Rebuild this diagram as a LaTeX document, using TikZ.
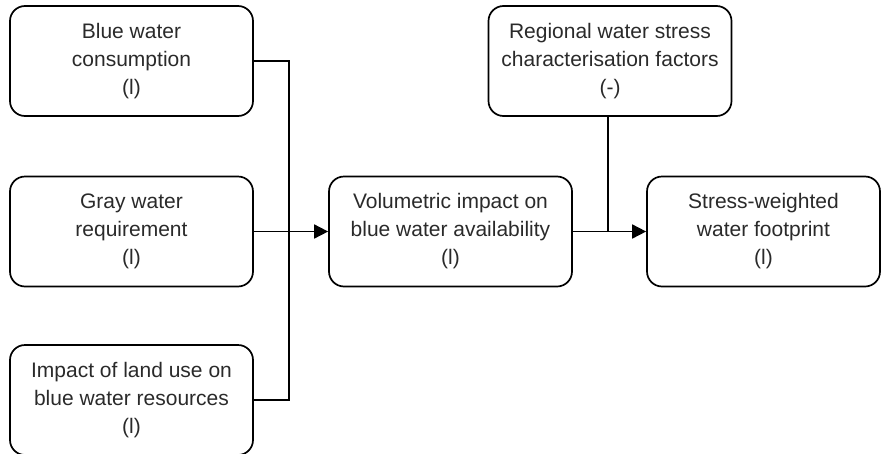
\documentclass[tikz,border=0pt]{standalone}
\usepackage{fontspec}
\setmainfont{Liberation Sans}
\usetikzlibrary{arrows.meta}
\definecolor{txt}{HTML}{2A2A2A}
\begin{document}
\begin{tikzpicture}[x=1pt,y=-1pt,
  box/.style={draw, line width=1.7pt, rounded corners=15pt, minimum width=243pt, minimum height=110pt,
    align=center, text=txt, font=\fontsize{21}{28}\selectfont, inner sep=0pt},
  conn/.style={line width=1.7pt},
  arr/.style={conn, -{Triangle[length=14pt,width=14pt]}}]
\useasboundingbox (0,0) rectangle (881,453);
\node[box] (bwc) at (131.5,61) {Blue water\\consumption\\(l)};
\node[box] (gwr) at (131.5,231.5) {Gray water\\requirement\\(l)};
\node[box] (lu) at (131.5,400) {Impact of land use on\\blue water resources\\(l)};
\node[box] (vol) at (450.5,231.5) {Volumetric impact on\\blue water availability\\(l)};
\node[box] (rws) at (610,61) {Regional water stress\\characterisation factors\\(-)};
\node[box, minimum width=233pt] (swf) at (763.5,231.5) {Stress-weighted\\water footprint\\(l)};
\coordinate (j1) at (289,61);
\coordinate (j2) at (289,400);
\coordinate (j3) at (608,231.5);
\draw[conn] (bwc.east) -- (j1) -- (j2) -- (lu.east);
\draw[arr] (gwr.east) -- (vol.west);
\draw[conn] (rws.south -| j3) -- (j3);
\draw[arr] (vol.east) -- (swf.west);
\end{tikzpicture}
\end{document}
